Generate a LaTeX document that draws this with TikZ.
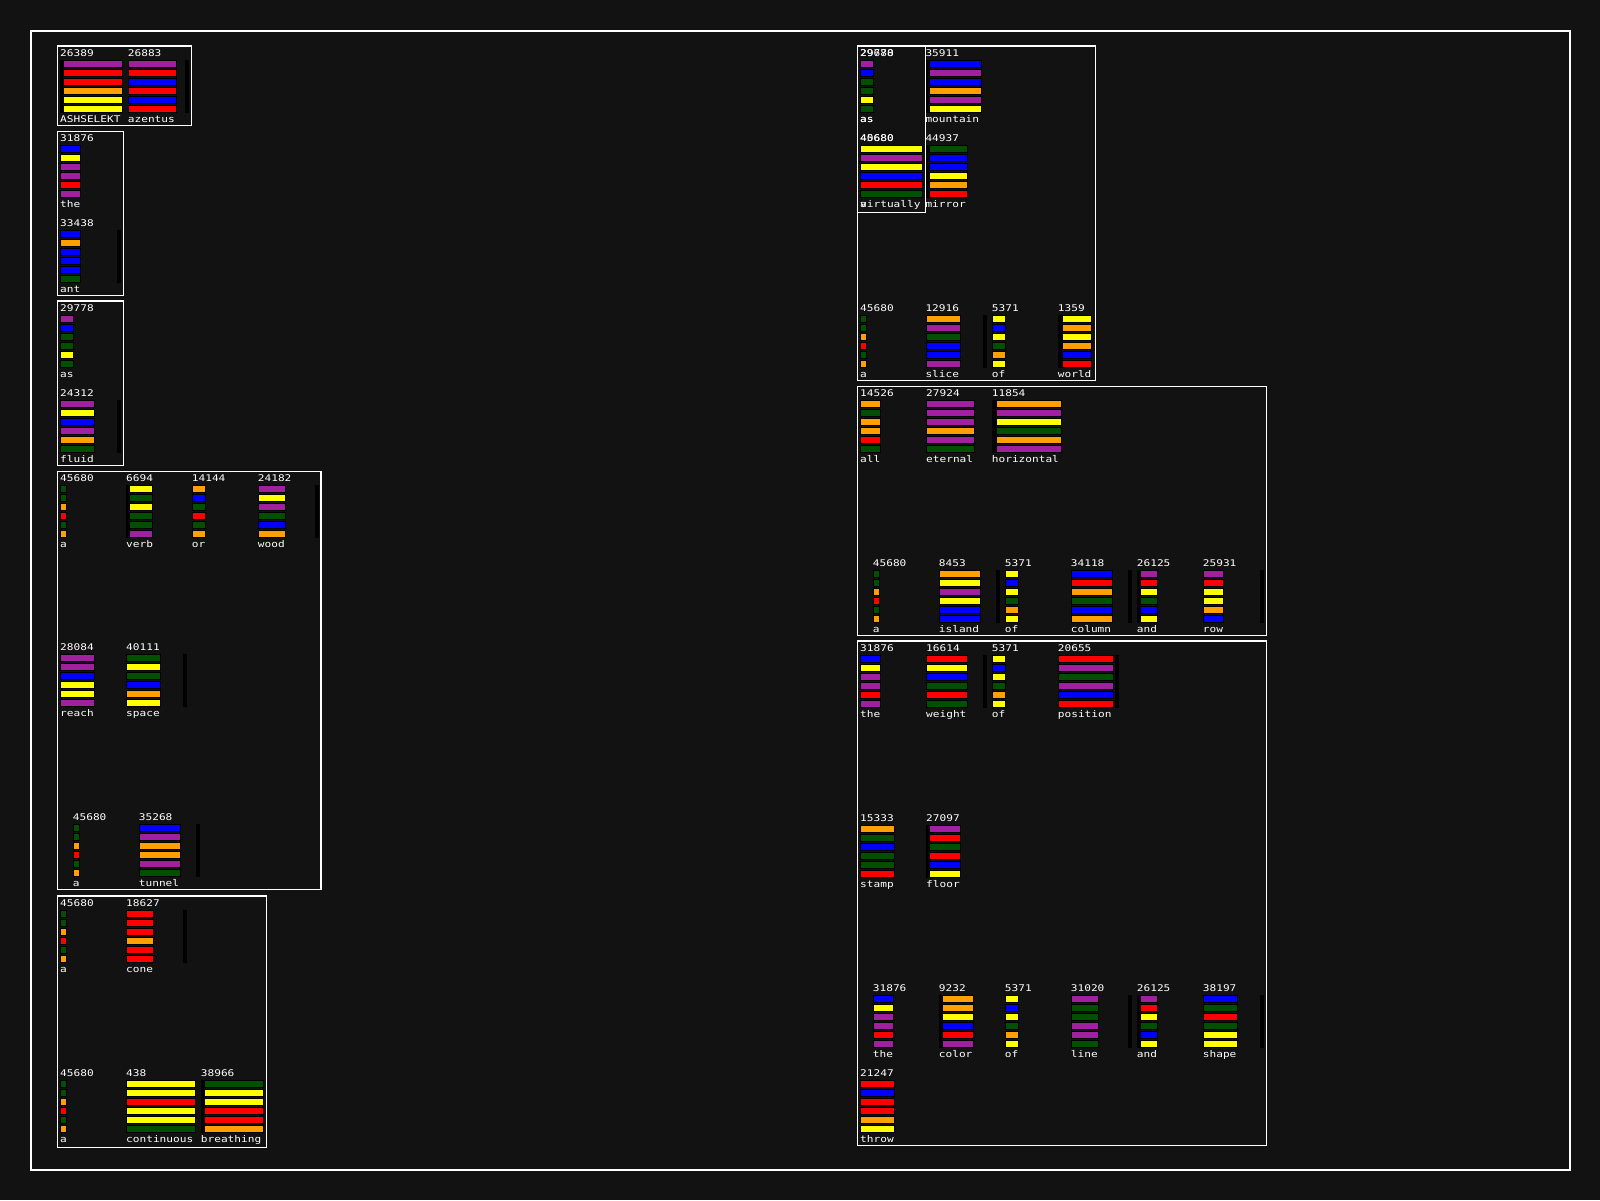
\documentclass[tikz,border=0pt]{standalone}
\usepackage{fontspec}
\newfontfamily\pixfont[FakeStretch=1.21]{DejaVu Sans Mono}
\definecolor{bg}{HTML}{121212}
\definecolor{cp}{HTML}{A020A0}
\definecolor{cr}{HTML}{FF0000}
\definecolor{co}{HTML}{FFA000}
\definecolor{cy}{HTML}{FFFF00}
\definecolor{cb}{HTML}{0000FF}
\definecolor{cg}{HTML}{005000}
\tikzset{
  frame/.style={draw=white,line width=1.2pt},
  bar/.style={draw=black,line width=1pt},
  txt/.style={text=white,font=\pixfont\fontsize{9.2}{10}\selectfont,inner sep=0pt,anchor=base west},
}
\newcounter{wg}
% #1 x, #2 top, #3 bar x1, #4 bar x2, #5 number, #6 label, #7 colours
\newcommand\wordglyph[7]{%
  \stepcounter{wg}%
  \node[txt] (num\thewg) at (#1,#2+6.7) {#5};
  \foreach \c [count=\i from 0] in {#7}{\draw[bar,fill=\c] (#3+0.5,#2+11.5+9*\i) rectangle (#4-0.5,#2+17.8+9*\i);}
  \node[txt] (lab\thewg) at (#1,#2+73.4) {#6};
}
\newcommand\blkstrip[3]{\fill[black] (#1,#2+10.7) rectangle (#3,#2+63.3);}
\begin{document}
\begin{tikzpicture}[x=1pt,y=-1pt]
\useasboundingbox (0,0) rectangle (1600,1200);
\fill[bg] (0,0) rectangle (1600,1200);
\draw[frame] (31,31) rectangle (1570,1170);

% ---- strips ----
\blkstrip{60}{49.3}{63.3}
\blkstrip{185}{49.3}{188.7}
\blkstrip{117}{219.3}{121}
\blkstrip{117}{389.3}{121}
\blkstrip{126}{474.3}{129.3}
\blkstrip{315}{474.3}{318.7}
\blkstrip{183}{643.3}{187}
\blkstrip{196}{813.3}{200}
\blkstrip{183}{899.3}{187}
\blkstrip{201}{1069.3}{204.3}
\blkstrip{925.3}{49.3}{929.3}
\blkstrip{925.3}{134.3}{929.3}
\blkstrip{983}{304.3}{987}
\blkstrip{1058.3}{304.3}{1061.7}
\blkstrip{992.3}{389.3}{995.7}
\blkstrip{996}{559.3}{1000}
\blkstrip{1128}{559.3}{1132}
\blkstrip{1137}{559.3}{1140.3}
\blkstrip{1260}{559.3}{1264}
\blkstrip{983}{644.3}{987}
\blkstrip{1115}{644.3}{1119}
\blkstrip{926.3}{814.3}{929.3}
\blkstrip{939}{984.3}{942.3}
\blkstrip{1128}{984.3}{1132}
\blkstrip{1137}{984.3}{1140.3}
\blkstrip{1260}{984.3}{1264}

% ---- left column ----
\wordglyph{60}{49.3}{63.3}{122.7}{26389}{ASHSELEKT}{cp,cr,cr,co,cy,cy}
\wordglyph{127.7}{49.3}{128.3}{176.7}{26883}{azentus}{cp,cr,cb,cr,cb,cr}
\wordglyph{60}{134.3}{60.3}{80.7}{31876}{the}{cb,cy,cp,cp,cr,cp}
\wordglyph{60}{219.3}{60.3}{80.7}{33438}{ant}{cb,co,cb,cb,cb,cg}
\wordglyph{60}{304.3}{60.3}{73.7}{29778}{as}{cp,cb,cg,cg,cy,cg}
\wordglyph{60}{389.3}{60.3}{94.7}{24312}{fluid}{cp,cy,cb,cp,co,cg}
\wordglyph{60}{474.3}{60.3}{66.7}{45680}{a}{cg,cg,co,cr,cg,co}
\wordglyph{126}{474.3}{129.3}{153.3}{6694}{verb}{cy,cg,cy,cg,cg,cp}
\wordglyph{191.7}{474.3}{192.3}{205.7}{14144}{or}{co,cb,cg,cr,cg,co}
\wordglyph{257.7}{474.3}{258.3}{285.7}{24182}{wood}{cp,cy,cp,cg,cb,co}
\wordglyph{60}{643.3}{60.3}{94.7}{28084}{reach}{cp,cp,cb,cy,cy,cp}
\wordglyph{126}{643.3}{126.3}{160.7}{40111}{space}{cg,cy,cg,cb,co,cy}
\wordglyph{72.7}{813.3}{73}{80}{45680}{a}{cg,cg,co,cr,cg,co}
\wordglyph{138.7}{813.3}{139}{180.7}{35268}{tunnel}{cb,cp,co,co,cp,cg}
\wordglyph{60}{899.3}{60.3}{66.7}{45680}{a}{cg,cg,co,cr,cg,co}
\wordglyph{126}{899.3}{126.3}{153.7}{18627}{cone}{cr,cr,cr,co,cr,cr}
\wordglyph{60}{1069.3}{60.3}{66.7}{45680}{a}{cg,cg,co,cr,cg,co}
\wordglyph{126}{1069.3}{126.3}{195.7}{438}{continuous}{cy,cy,cr,cy,cy,cg}
\wordglyph{200.7}{1069.3}{204.3}{263.7}{38966}{breathing}{cg,cy,cy,cr,cr,co}

% ---- right column ----
\wordglyph{860}{49.3}{860.3}{873.7}{29680}{as}{cp,cb,cg,cg,cy,cg}
\wordglyph{860}{49.3}{860.3}{873.7}{29778}{as}{cp,cb,cg,cg,cy,cg}
\wordglyph{860}{134.3}{860.3}{866.7}{45680}{a}{cg,cg,co,cr,cg,co}
\wordglyph{860}{134.3}{860.3}{922.7}{40680}{virtually}{cy,cp,cy,cb,cr,cg}
\wordglyph{925.3}{49.3}{929.3}{981.7}{35911}{mountain}{cb,cp,cb,co,cp,cy}
\wordglyph{925.3}{134.3}{929.3}{967.7}{44937}{mirror}{cg,cb,cb,cy,co,cr}
\wordglyph{860}{304.3}{860.3}{866.7}{45680}{a}{cg,cg,co,cr,cg,co}
\wordglyph{925.3}{304.3}{926.3}{960.7}{12916}{slice}{co,cp,cg,cb,cb,cp}
\wordglyph{991.7}{304.3}{992.3}{1005.7}{5371}{of}{cy,cb,cy,cg,co,cy}
\wordglyph{1057.7}{304.3}{1061.7}{1092.3}{1359}{world}{cy,co,cy,co,cb,cr}

\wordglyph{860}{389.3}{860.3}{880.7}{14526}{all}{co,cg,co,co,cr,cg}
\wordglyph{926}{389.3}{926.3}{974.7}{27924}{eternal}{cp,cp,cp,co,cp,cg}
\wordglyph{991.7}{389.3}{995.7}{1061.7}{11854}{horizontal}{co,cp,cy,cg,co,cp}
\wordglyph{872.7}{559.3}{873}{880}{45680}{a}{cg,cg,co,cr,cg,co}
\wordglyph{938.7}{559.3}{939}{980.7}{8453}{island}{co,cy,cp,cy,cb,cb}
\wordglyph{1004.7}{559.3}{1005}{1018.7}{5371}{of}{cy,cb,cy,cg,co,cy}
\wordglyph{1070.7}{559.3}{1071}{1112.7}{34118}{column}{cb,cr,co,cg,cb,co}
\wordglyph{1136.7}{559.3}{1140.3}{1157.7}{26125}{and}{cp,cr,cy,cg,cb,cy}
\wordglyph{1202.7}{559.3}{1203}{1223.7}{25931}{row}{cp,cr,cy,cy,co,cb}

\wordglyph{860}{644.3}{860.3}{880.7}{31876}{the}{cb,cy,cp,cp,cr,cp}
\wordglyph{926}{644.3}{926.3}{967.7}{16614}{weight}{cr,cy,cb,cg,cr,cg}
\wordglyph{991.7}{644.3}{992.3}{1005.7}{5371}{of}{cy,cb,cy,cg,co,cy}
\wordglyph{1057.7}{644.3}{1058.3}{1113.7}{20655}{position}{cr,cp,cg,cp,cb,cr}
\wordglyph{860}{814.3}{860.3}{894.7}{15333}{stamp}{co,cg,cb,cg,cg,cr}
\wordglyph{926}{814.3}{929.3}{960.7}{27097}{floor}{cp,cr,cg,cr,cb,cy}
\wordglyph{872.7}{984.3}{873}{894}{31876}{the}{cb,cy,cp,cp,cr,cp}
\wordglyph{938.7}{984.3}{942.3}{974}{9232}{color}{co,co,cy,cb,cr,cp}
\wordglyph{1004.7}{984.3}{1005}{1018.7}{5371}{of}{cy,cb,cy,cg,co,cy}
\wordglyph{1070.7}{984.3}{1071}{1099}{31020}{line}{cp,cg,cg,cp,cp,cg}
\wordglyph{1136.7}{984.3}{1140.3}{1157.7}{26125}{and}{cp,cr,cy,cg,cb,cy}
\wordglyph{1202.7}{984.3}{1203}{1238}{38197}{shape}{cb,cg,cr,cg,cy,cy}
\wordglyph{860}{1069.3}{860.3}{894.7}{21247}{throw}{cr,cb,cr,cr,co,cy}

% ---- frames ----
\draw[frame] (57.3,46) rectangle (191.7,125.7);
\draw[frame] (57.3,131.3) rectangle (123.3,295.7);
\draw[frame] (57.3,301) rectangle (123.3,465.7);
\draw[frame] (57.3,471.4) rectangle (321,889.7);
\draw[frame] (57.3,896) rectangle (266.7,1147.7);
\draw[frame] (857.3,46) rectangle (1095.7,380.7);
\draw[frame] (857.3,46) rectangle (925.3,212.3);
\draw[frame] (857.3,386.7) rectangle (1266.7,635.7);
\draw[frame] (857.3,641) rectangle (1266.7,1145.7);
\end{tikzpicture}
\end{document}
